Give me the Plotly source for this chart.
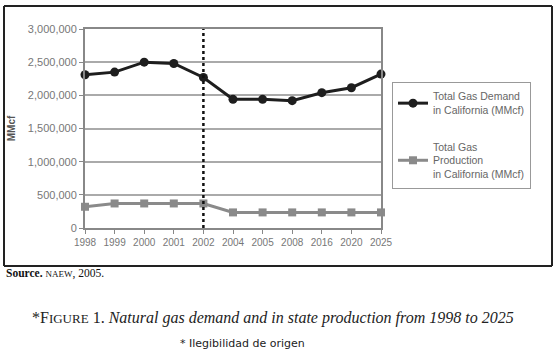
import plotly.graph_objects as go

years = ["1998", "1999", "2000", "2001", "2002", "2004", "2005", "2008", "2016", "2020", "2025"]
demand = [2310000, 2350000, 2500000, 2480000, 2270000, 1940000, 1940000, 1920000, 2040000, 2115000, 2320000]
production = [320000, 370000, 370000, 370000, 370000, 235000, 235000, 235000, 235000, 235000, 235000]
y_ticks = [0, 500000, 1000000, 1500000, 2000000, 2500000, 3000000]
demand_name = "Total Gas Demand<br>in California (MMcf)"
production_name = "Total Gas<br>Production<br>in California (MMcf)"
marker_year = "2002"

L, R, T, B = 85, 175, 29, 128
W, H = 556, 356
pw, ph = W - L - R, H - T - B

def px(x):
    return (x - L) / pw

def py(y):
    return (H - B - y) / ph

fig = go.Figure()
fig.add_trace(go.Scatter(
    x=years, y=demand, name=demand_name, mode="lines+markers", legendgroup="d",
    line=dict(color="#1e1e1e", width=3),
    marker=dict(symbol="circle", size=9, color="#1e1e1e"),
    cliponaxis=False,
))
fig.add_trace(go.Scatter(
    x=years, y=production, name=production_name, mode="lines+markers", legendgroup="p",
    line=dict(color="#8a8a8a", width=3),
    marker=dict(symbol="square", size=8, color="#8a8a8a"),
    cliponaxis=False,
))

mi = years.index(marker_year)
fig.add_shape(type="line", xref="x", yref="paper", x0=mi, x1=mi,
              y0=0, y1=1, line=dict(color="#111111", width=2.5, dash="dot"), layer="above")
# outer frame edges
fx0, fx1, fy0, fy1 = px(4), px(552), py(266), py(6)
for (a, b, c, d) in [(fx0, fy1, fx1, fy1), (fx0, fy0, fx1, fy0), (fx0, fy0, fx0, fy1), (fx1, fy0, fx1, fy1)]:
    fig.add_shape(type="line", xref="paper", yref="paper", x0=a, y0=b, x1=c, y1=d,
                  line=dict(color="#222222", width=2), layer="above")

fig.add_annotation(xref="paper", yref="paper", x=px(4), y=py(273), xanchor="left", yanchor="middle",
                   text="<b>Source.</b> <span style='font-size:9px'>NAEW</span>, 2005.", showarrow=False,
                   font=dict(family="Liberation Serif", size=11.5, color="#111111"))
fig.add_annotation(xref="paper", yref="paper", x=px(273), y=py(318), xanchor="center", yanchor="middle",
                   text="*F<span style='font-size:13px'>IGURE</span> 1. <i>Natural gas demand and in state production from 1998 to 2025</i>",
                   showarrow=False,
                   font=dict(family="Liberation Serif", size=16, color="#222222"))
fig.add_annotation(xref="paper", yref="paper", x=px(242), y=py(343), xanchor="center", yanchor="middle",
                   text="* Ilegibilidad de origen", showarrow=False,
                   font=dict(family="DejaVu Sans", size=11, color="#222222"))

fig.update_layout(
    width=W, height=H,
    margin=dict(l=L, r=R, t=T, b=B, pad=0),
    paper_bgcolor="white", plot_bgcolor="white",
    font=dict(family="Liberation Sans", size=10, color="#777777"),
    showlegend=True,
    legend=dict(x=px(392), y=py(82), xanchor="left", yanchor="top",
                bordercolor="#999999", borderwidth=1, bgcolor="white",
                font=dict(family="Liberation Sans", size=10.5, color="#666666"),
                tracegroupgap=20, itemwidth=30, traceorder="grouped"),
)
fig.update_xaxes(type="category", range=[0, len(years) - 1], showgrid=False,
                 showline=True, linecolor="#888888", linewidth=2, mirror=True,
                 ticks="outside", ticklen=4, tickcolor="#888888",
                 tickfont=dict(size=10, color="#777777"))
fig.update_yaxes(range=[0, 3000000], tickvals=y_ticks, tickformat=",d",
                 showgrid=True, gridcolor="#aaaaaa", gridwidth=1.5,
                 showline=True, linecolor="#888888", linewidth=2, mirror=True,
                 ticks="outside", ticklen=4, tickcolor="#888888", zeroline=False,
                 tickfont=dict(size=11, color="#777777"),
                 title=dict(text="<b>MMcf</b>", font=dict(size=10, color="#555555"), standoff=10))

fig.write_html("out.html", config={"displayModeBar": False},
               post_script="document.body.style.margin='0px';")
